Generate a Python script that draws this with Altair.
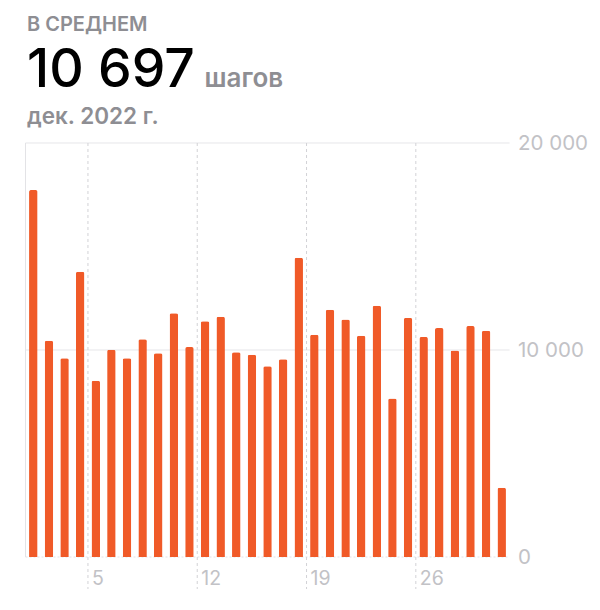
import altair as alt
import pandas as pd

days = list(range(1, 32))
steps = [17730, 10450, 9600, 13780, 8520, 10010, 9600, 10520, 9840, 11770,
         10140, 11390, 11610, 9890, 9770, 9210, 9550, 14460, 10740, 11950,
         11470, 10690, 12140, 7660, 11550, 10630, 11060, 9980, 11160, 10930, 3340]
week_days = [5, 12, 19, 26]
y_ticks = [0, 10000, 20000]

title_small = "В СРЕДНЕМ"
title_value = "10 697"
title_unit = "шагов"
title_period = "дек. 2022 г."

BAR = "#F05A28"
GRID = "#e3e3e6"
LABEL = "#c2c2c6"
GRAYTXT = "#8e8e93"
FONT = "Inter"

df = pd.DataFrame({"day": days, "steps": steps})
wk = pd.DataFrame({"edge": [d - 0.5 for d in week_days], "label": [str(d) for d in week_days]})
gl = pd.DataFrame({"v": y_ticks})

W, H = 484, 414
xs = alt.Scale(domain=[0.5, 31.5], nice=False, zero=False, padding=0)
ys = alt.Scale(domain=[0, 20000], nice=False, padding=0)
yaxis = alt.Axis(
    orient="right", values=y_ticks, grid=False, domain=False, ticks=False,
    labelExpr="replace(format(datum.value, ',d'), ',', ' ')",
    labelFontSize=20.5, labelFont=FONT, labelColor=LABEL, labelPadding=8,
    labelBaseline="middle", labelFlush=False, title=None)

hgrid = alt.Chart(gl).mark_rule(color=GRID, strokeWidth=1).encode(
    y=alt.Y("v:Q", scale=ys, axis=yaxis, title=None),
    x=alt.value(0), x2=alt.value(W),
    strokeDash=alt.condition("datum.v == 0", alt.value([2, 2]), alt.value([1, 0])),
)

left_line = alt.Chart(pd.DataFrame({"v": [0.5]})).mark_rule(color=GRID, strokeWidth=1).encode(
    x=alt.X("v:Q", scale=xs, axis=None),
    y=alt.value(0), y2=alt.value(H),
)

vgrid = alt.Chart(wk).mark_rule(color="#d2d2d6", strokeWidth=1, strokeDash=[3, 3]).encode(
    x=alt.X("edge:Q", scale=xs, axis=None),
    y=alt.value(0), y2=alt.value(H + 32),
)

vlab = alt.Chart(wk).mark_text(align="left", baseline="middle", dx=4, fontSize=19.5,
                               font=FONT, color=LABEL).encode(
    x=alt.X("edge:Q", scale=xs, axis=None),
    y=alt.value(H + 22),
    text="label:N",
)

bars = alt.Chart(df).mark_bar(color=BAR, width=8.5, cornerRadiusTopLeft=2,
                              cornerRadiusTopRight=2).encode(
    x=alt.X("day:Q", scale=xs, axis=None),
    y=alt.Y("steps:Q", scale=ys, axis=yaxis, title=None),
)

t1 = alt.Chart(pd.DataFrame({"t": [title_small]})).mark_text(
    align="left", baseline="alphabetic", fontSize=20, fontWeight=600, font=FONT,
    color=GRAYTXT).encode(x=alt.value(1.5), y=alt.value(-112.5), text="t:N")
t2 = alt.Chart(pd.DataFrame({"t": [title_value]})).mark_text(
    align="left", baseline="alphabetic", fontSize=53.5, fontWeight=500, font=FONT,
    color="#000000").encode(x=alt.value(1.5), y=alt.value(-56), text="t:N")
t3 = alt.Chart(pd.DataFrame({"t": [title_unit]})).mark_text(
    align="left", baseline="alphabetic", fontSize=26, fontWeight=600, font=FONT,
    color=GRAYTXT).encode(x=alt.value(179), y=alt.value(-56), text="t:N")
t4 = alt.Chart(pd.DataFrame({"t": [title_period]})).mark_text(
    align="left", baseline="alphabetic", fontSize=22.5, fontWeight=600, font=FONT,
    color=GRAYTXT).encode(x=alt.value(1.5), y=alt.value(-19), text="t:N")

chart = alt.layer(hgrid, left_line, vgrid, bars, vlab, t1, t2, t3, t4).properties(
    width=W, height=H,
    padding={"left": 17.5, "top": 135, "right": 82, "bottom": 45},
    autosize=alt.AutoSizeParams(type="none"),
    background="white",
).configure_view(stroke=None)

chart.save("out.html", embed_options={"renderer": "svg", "actions": False})
